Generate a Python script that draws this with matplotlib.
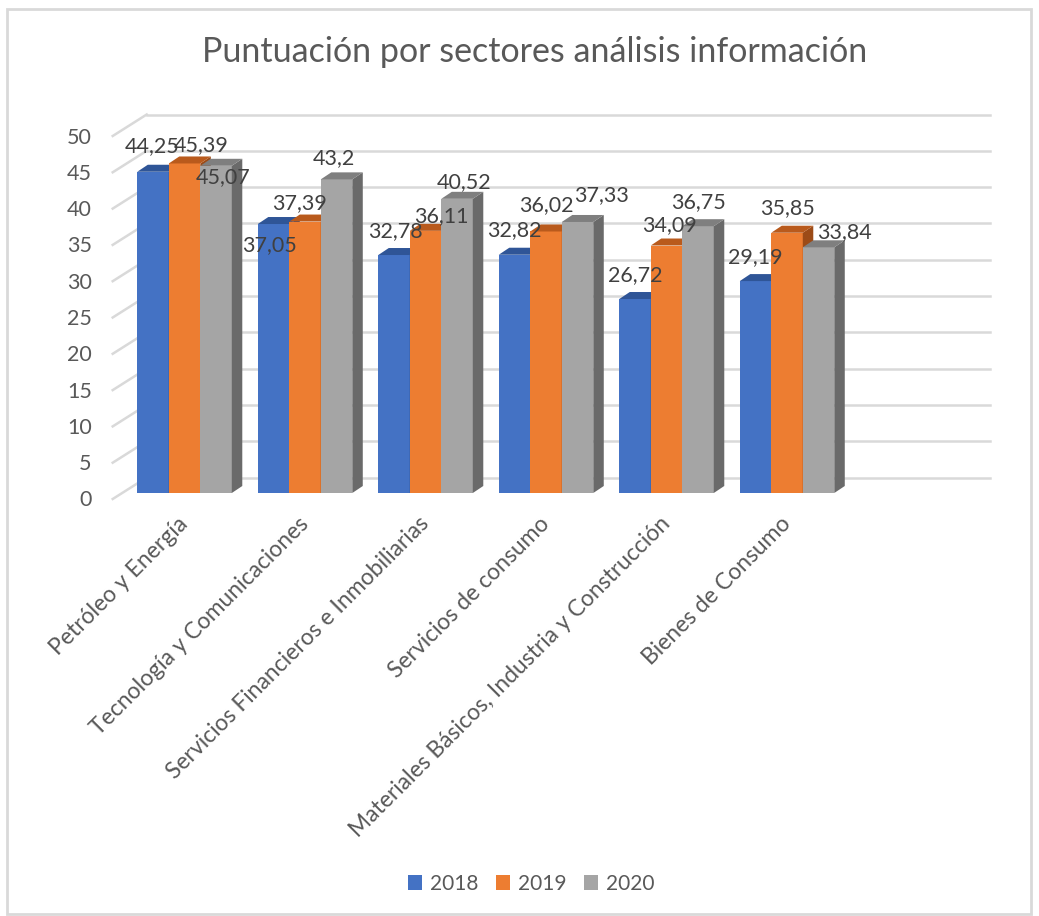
import matplotlib
matplotlib.use("Agg")
import matplotlib.pyplot as plt
from matplotlib.patches import Rectangle, Polygon, Patch
from matplotlib.lines import Line2D
import matplotlib.transforms as mtransforms

# ---------------- data ----------------
categories = [
    "Petróleo y Energía",
    "Tecnología y Comunicaciones",
    "Servicios Financieros e Inmobiliarias",
    "Servicios de consumo",
    "Materiales Básicos, Industria y Construcción",
    "Bienes de Consumo",
]
series_names = ["2018", "2019", "2020"]
values_2018 = [44.25, 37.05, 32.78, 32.82, 26.72, 29.19]
values_2019 = [45.39, 37.39, 36.11, 36.02, 34.09, 35.85]
values_2020 = [45.07, 43.2, 40.52, 37.33, 36.75, 33.84]
value_labels_2018 = ["44,25", "37,05", "32,78", "32,82", "26,72", "29,19"]
value_labels_2019 = ["45,39", "37,39", "36,11", "36,02", "34,09", "35,85"]
value_labels_2020 = ["45,07", "43,2", "40,52", "37,33", "36,75", "33,84"]
y_ticks = [0, 5, 10, 15, 20, 25, 30, 35, 40, 45, 50]
title = "Puntuación por sectores análisis información"

# ---------------- style ----------------
W, H = 1039, 916
FONT = ["Lato", "DejaVu Sans"]
plt.rcParams["font.family"] = FONT

front_colors = ["#4472C4", "#ED7D31", "#A5A5A5"]
top_colors = ["#2F5597", "#B95A1C", "#7F7F7F"]
side_colors = ["#2A4C86", "#9C4B17", "#6A6A6A"]
grid_color = "#D9D9D9"
text_color = "#595959"
label_color = "#404040"

bar_w = 0.2614
bar_depth = (10.5, 7.0)        # display px (right, up)
wall_back = (24.7, 15.5)       # back wall offset from bar plane
wall_front = (-9.3, -6.0)      # front edge offset from bar plane

# label nudges (px right, px down) relative to default position
nudges = [
    [(-1, -2), (-4, 45), (1, 0), (0, -1), (0, 0), (0, 0)],
    [(17, 6), (-5, 6), (16, 9), (0, -2), (3, 4), (0, -1)],
    [(7, 35), (-3, 3), (7, 7), (24, -3), (0, 0), (26, 9)],
]

fig = plt.figure(figsize=(W / 100, H / 100), dpi=100)
fig.patch.set_facecolor("white")

# outer chart border
fig.add_artist(Rectangle((7 / W, 1 - 914 / H), (1031 - 7) / W, (914 - 9) / H,
                         transform=fig.transFigure, fill=False,
                         edgecolor="#D9D9D9", linewidth=2))

ax = fig.add_axes([122 / W, (H - 493) / H, (965 - 122) / W, 363 / H])
ax.set_xlim(-0.519, 6.477)
ax.set_ylim(0, 50)
ax.axis("off")

ident = mtransforms.IdentityTransform()
x0lim, x1lim = ax.get_xlim()

# back wall gridlines
back_tr = mtransforms.offset_copy(ax.transData, fig=fig, x=wall_back[0],
                                  y=wall_back[1], units="dots")
for v in y_ticks:
    ax.add_artist(Line2D([x0lim, x1lim], [v, v], transform=back_tr,
                         color=grid_color, linewidth=1.8, zorder=0.5,
                         clip_on=False))
    # left wall diagonal
    px, py = ax.transData.transform((x0lim, v))
    ax.add_artist(Line2D([px + wall_front[0], px + wall_back[0]],
                         [py + wall_front[1], py + wall_back[1]],
                         transform=ident, color=grid_color, linewidth=1.8,
                         zorder=0.5, clip_on=False))
    # tick label
    ax.text(px + wall_front[0] - 21, py + wall_front[1] - 1.5, str(v),
            transform=ident, ha="right", va="center", fontsize=15.5,
            color=text_color)

# bars
all_values = [values_2018, values_2019, values_2020]
all_labels = [value_labels_2018, value_labels_2019, value_labels_2020]
dx, dy = bar_depth
for i in range(len(categories)):
    for j, vals in enumerate(all_values):
        v = vals[i]
        x0 = i - 1.5 * bar_w + j * bar_w
        x1 = x0 + bar_w
        ax.add_patch(Rectangle((x0, 0), bar_w, v, facecolor=front_colors[j],
                               edgecolor="none", zorder=2, clip_on=False))
        (ax0, ay0), (ax1, ay1) = ax.transData.transform([(x0, 0), (x1, v)])
        side = Polygon([(ax1, ay0), (ax1, ay1), (ax1 + dx, ay1 + dy),
                        (ax1 + dx, ay0 + dy)], closed=True, transform=ident,
                       facecolor=side_colors[j], edgecolor="none", zorder=2,
                       clip_on=False)
        top = Polygon([(ax0, ay1), (ax1, ay1), (ax1 + dx, ay1 + dy),
                       (ax0 + dx, ay1 + dy)], closed=True, transform=ident,
                      facecolor=top_colors[j], edgecolor="none", zorder=2,
                      clip_on=False)
        ax.add_artist(side)
        ax.add_artist(top)
        nx, ny = nudges[j][i]
        cx = (ax0 + ax1) / 2
        ax.text(cx + nx, ay1 + 24 - ny, all_labels[j][i], transform=ident,
                ha="center", va="center", fontsize=15.5, color=label_color,
                zorder=5)

# category labels
for i, cat in enumerate(categories):
    px, py = ax.transData.transform((i, 0))
    ax.text(px - 7, py - 20, cat, transform=ident, rotation=45,
            rotation_mode="anchor", ha="right", va="top", fontsize=16.5,
            color=text_color)

# title
fig.text(535 / W, 1 - 52 / H, title, ha="center", va="center", fontsize=24.5,
         color=text_color)

# legend
handles = [Patch(facecolor=c, edgecolor="none") for c in front_colors]
fig.legend(handles, series_names, loc="center", bbox_to_anchor=(531 / W, 1 - 884 / H),
           ncol=3, frameon=False, fontsize=15, handlelength=0.7,
           handleheight=0.7, handletextpad=0.35, columnspacing=0.85,
           labelcolor=text_color)

fig.savefig("out.png", dpi=100, facecolor="white")
